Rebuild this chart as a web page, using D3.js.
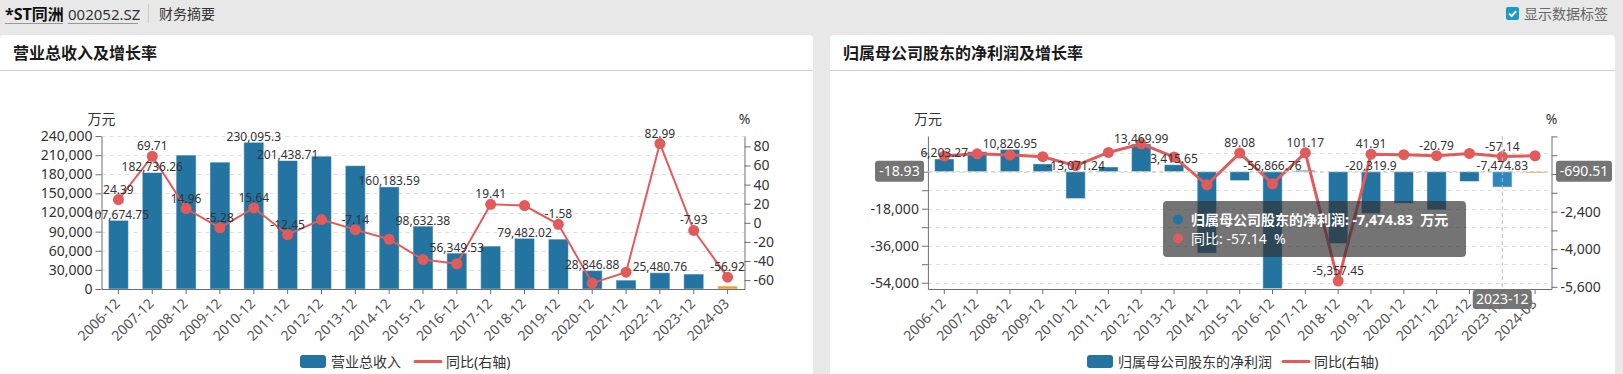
<!DOCTYPE html>
<html>
<head>
<meta charset="utf-8">
<script src="https://cdn.jsdelivr.net/npm/d3@7"></script>
<style>
    body { margin: 0; background: #e8e8e8; }
    svg { display: block; font-family: "Noto Sans", "Noto Sans CJK SC", sans-serif; }
</style>
</head>
<body>
<div id="svg-container"></div>
<script>
/* two finance panels: revenue + net profit, bars on left axis, yoy line on right axis */

let categories = ["2006-12", "2007-12", "2008-12", "2009-12", "2010-12", "2011-12", "2012-12", "2013-12",
    "2014-12", "2015-12", "2016-12", "2017-12", "2018-12", "2019-12", "2020-12", "2021-12", "2022-12",
    "2023-12", "2024-03"];

// 营业总收入 (万元) and 同比 (%)
let revenue = [107674.75, 182736.26, 210073.2, 198981.3, 230095.3, 201438.71, 208333.4, 193458.1, 160183.59,
    98632.38, 56349.53, 67287.0, 79482.02, 78226.2, 28846.88, 13924.9, 25480.76, 23460.2, 4612.4];
let revenueYoy = [24.39, 69.71, 14.96, -5.28, 15.64, -12.45, 3.42, -7.14, -17.2, -38.43, -42.87, 19.41, 18.12,
    -1.58, -63.12, -51.73, 82.99, -7.93, -56.92];
// labels that survive the overlap hiding in the picture
let revenueBarLabelShown = ["2006-12", "2007-12", "2010-12", "2011-12", "2014-12", "2015-12", "2016-12",
    "2018-12", "2020-12", "2022-12"];
let revenueYoyLabelShown = ["2006-12", "2007-12", "2008-12", "2009-12", "2010-12", "2011-12", "2013-12",
    "2017-12", "2019-12", "2022-12", "2023-12", "2024-03"];

// 归属母公司股东的净利润 (万元) and 同比 (%)
let profit = [6203.27, 9730.4, 10826.95, 3800.0, -13071.24, 2300.0, 13469.99, 3415.65, -39600.2, -4324.6,
    -56866.76, 665.3, -34962.1, -20319.9, -15370.4, -18566.0, -4756.8, -7474.83, -620.5];
let profitYoy = [-35.1, 56.86, 11.27, -64.9, -444.0, 117.6, 485.7, -74.64, -1259.4, 89.08, -1215.0, 101.17,
    -5357.45, 41.91, 24.36, -20.79, 74.38, -57.14, -23.6];
let profitBarLabelShown = ["2006-12", "2008-12", "2010-12", "2012-12", "2013-12", "2016-12", "2019-12", "2023-12"];
let profitYoyLabelShown = ["2015-12", "2017-12", "2018-12", "2019-12", "2021-12", "2023-12"];

let revenueTicks = [0, 30000, 60000, 90000, 120000, 150000, 180000, 210000, 240000];
let revenueYoyTicks = [-60, -40, -20, 0, 20, 40, 60, 80];
let profitTicks = [-54000, -45000, -36000, -27000, -18000, -9000, 0, 9000];
let profitTickLabels = [-54000, -36000, -18000, 0];
let profitYoyTicks = [-5600, -4800, -4000, -3200, -2400, -1600, -800, 0, 800];
let profitYoyTickLabels = [-5600, -4000, -2400, -800];

let hoverCategory = "2023-12";

let barColor = "#2474a2";
let barHoverColor = "#2f88bd";
let lastBarColor = "#f39a2b";
let lineColor = "#e25b5b";
let plotTop = 136, plotBottom = 289;

let loc = d3.formatLocale({decimal: ".", thousands: ",", grouping: [3], currency: ["", ""], minus: "-"});
let numLabel = loc.format(",.2~f");
let axisNum = loc.format(",");

let svg = d3.select("#svg-container")
    .append("svg")
    .attr("width", 1623)
    .attr("height", 374);

svg.append("rect").attr("width", 1623).attr("height", 374).attr("fill", "#e8e8e8");

// ---- top bar ----
svg.append("text").attr("x", 5).attr("y", 20).attr("font-size", 16).attr("font-weight", "bold")
    .attr("fill", "#111").text("*ST同洲");
svg.append("line").attr("x1", 5).attr("x2", 63).attr("y1", 23.5).attr("y2", 23.5).attr("stroke", "#999");
svg.append("text").attr("x", 68).attr("y", 20).attr("font-size", 15).attr("fill", "#333").text("002052.SZ");
svg.append("line").attr("x1", 68).attr("x2", 138).attr("y1", 23.5).attr("y2", 23.5).attr("stroke", "#999");
svg.append("line").attr("x1", 148.5).attr("x2", 148.5).attr("y1", 4).attr("y2", 23).attr("stroke", "#ccc");
svg.append("text").attr("x", 159).attr("y", 19).attr("font-size", 14).attr("fill", "#333").text("财务摘要");

svg.append("rect").attr("x", 1506).attr("y", 7).attr("width", 13).attr("height", 13).attr("rx", 2)
    .attr("fill", "#1a9ac6");
svg.append("path").attr("d", "M1509,13.5 l2.6,2.6 l4.6,-5").attr("fill", "none")
    .attr("stroke", "white").attr("stroke-width", 2);
svg.append("text").attr("x", 1524).attr("y", 18.5).attr("font-size", 14).attr("fill", "#666").text("显示数据标签");

// ---- panels ----
let panels = [{x: 0, w: 813, title: "营业总收入及增长率"}, {x: 830, w: 785, title: "归属母公司股东的净利润及增长率"}];
panels.forEach(function (p) {
    svg.append("rect").attr("x", p.x).attr("y", 35).attr("width", p.w).attr("height", 350).attr("rx", 4)
        .attr("fill", "white");
    svg.append("line").attr("x1", p.x).attr("x2", p.x + p.w).attr("y1", 70.5).attr("y2", 70.5)
        .attr("stroke", "#cfcfcf");
    svg.append("text").attr("x", p.x + 13).attr("y", 58.5).attr("font-size", 16).attr("font-weight", "bold")
        .attr("fill", "#1a1a1a").text(p.title);
});

let drawChart = function (o) {
    let g = svg.append("g");
    let x = d3.scaleBand().domain(categories).range([o.left, o.right]);
    let yL = d3.scaleLinear().domain(o.leftDomain).range([plotBottom, plotTop]);
    let yR = d3.scaleLinear().domain(o.rightDomain).range([plotBottom, plotTop]);
    let cx = function (c) { return x(c) + x.bandwidth() / 2; };
    let barW = x.bandwidth() * 0.59;

    let bars = categories.map(function (c, i) { return {cat: c, v: o.bars[i], yoy: o.line[i]}; });

    // dashed split lines
    g.append("g").selectAll("line")
        .data(o.leftTicks.filter(function (t) { return t !== o.leftDomain[0]; }))
        .enter()
        .append("line")
        .attr("x1", o.left).attr("x2", o.right)
        .attr("y1", function (d) { return Math.round(yL(d)) + 0.5; })
        .attr("y2", function (d) { return Math.round(yL(d)) + 0.5; })
        .attr("stroke", "#dedede")
        .attr("stroke-dasharray", "4,4");

    g.append("g").selectAll("rect")
        .data(bars)
        .enter()
        .append("rect")
        .attr("x", function (d) { return cx(d.cat) - barW / 2; })
        .attr("width", barW)
        .attr("y", function (d) { return d.v >= 0 ? yL(d.v) : yL(0); })
        .attr("height", function (d) { return Math.max(1, Math.abs(yL(d.v) - yL(0))); })
        .attr("fill", function (d) {
            if (d.cat === categories[categories.length - 1]) return lastBarColor;
            return d.cat === o.hover ? barHoverColor : barColor;
        })
        .attr("stroke", "rgba(255,255,255,0.45)")
        .attr("stroke-width", 1);

    let line = d3.line()
        .x(function (d) { return cx(d.cat); })
        .y(function (d) { return yR(d.yoy); });
    g.append("path")
        .datum(bars)
        .attr("d", line)
        .attr("fill", "none")
        .attr("stroke", lineColor)
        .attr("stroke-width", o.lineWidth);
    g.append("g").selectAll("circle")
        .data(bars)
        .enter()
        .append("circle")
        .attr("cx", function (d) { return cx(d.cat); })
        .attr("cy", function (d) { return yR(d.yoy); })
        .attr("r", 5.5)
        .attr("fill", lineColor);

    // axes
    let styleAxis = function (a) {
        a.attr("font-family", null).attr("font-size", 14);
        a.selectAll("path, line").attr("stroke", "#6e6e6e");
        a.selectAll("text").attr("fill", "#333");
    };
    g.append("g")
        .attr("transform", "translate(" + o.left + ",0)")
        .call(d3.axisLeft(yL).tickValues(o.leftTicks).tickSize(6).tickSizeOuter(0).tickPadding(3)
            .tickFormat(function (d) { return o.leftLabels.includes(d) ? axisNum(d) : ""; }))
        .call(styleAxis);
    g.append("g")
        .attr("transform", "translate(" + o.right + ",0)")
        .call(d3.axisRight(yR).tickValues(o.rightTicks).tickSize(6).tickSizeOuter(0).tickPadding(3)
            .tickFormat(function (d) { return o.rightLabels.includes(d) ? axisNum(d) : ""; }))
        .call(styleAxis);
    let xa = g.append("g")
        .attr("transform", "translate(0," + plotBottom + ")")
        .call(d3.axisBottom(x).tickSize(5).tickSizeOuter(0))
        .call(styleAxis);
    xa.selectAll("text")
        .attr("fill", "#555")
        .attr("y", 0)
        .attr("dy", "0.35em")
        .attr("text-anchor", "end")
        .attr("transform", "translate(-1,12) rotate(-45)");

    g.append("text").attr("x", o.left).attr("y", 124).attr("text-anchor", "middle").attr("font-size", 14)
        .attr("fill", "#333").text("万元");
    g.append("text").attr("x", o.right).attr("y", 124).attr("text-anchor", "middle").attr("font-size", 14)
        .attr("fill", "#333").text("%");

    // data labels
    g.append("g").selectAll("text")
        .data(bars.filter(function (d) { return o.barLabels.includes(d.cat); }))
        .enter()
        .append("text")
        .attr("x", function (d) { return cx(d.cat); })
        .attr("y", function (d) { return (d.v >= 0 ? yL(d.v) : yL(0)) - 1.5; })
        .attr("text-anchor", "middle")
        .attr("font-size", 12)
        .attr("fill", "#333")
        .text(function (d) { return numLabel(d.v); });
    g.append("g").selectAll("text")
        .data(bars.filter(function (d) { return o.lineLabels.includes(d.cat); }))
        .enter()
        .append("text")
        .attr("x", function (d) { return cx(d.cat); })
        .attr("y", function (d) { return yR(d.yoy) - 6; })
        .attr("text-anchor", "middle")
        .attr("font-size", 12)
        .attr("fill", "#333")
        .text(function (d) { return numLabel(d.yoy); });

    // legend
    let lg = g.append("g").attr("font-size", 14).attr("fill", "#333");
    lg.append("rect").attr("x", o.legendX).attr("y", 355).attr("width", 26).attr("height", 13).attr("rx", 3)
        .attr("fill", barColor);
    lg.append("text").attr("x", o.legendX + 31).attr("y", 366.5).text(o.barName);
    let lx = o.legendX + 31 + o.barNameWidth + 14;
    lg.append("line").attr("x1", lx).attr("x2", lx + 26).attr("y1", 361.5).attr("y2", 361.5)
        .attr("stroke", lineColor).attr("stroke-width", 3).attr("stroke-linecap", "round");
    lg.append("text").attr("x", lx + 31).attr("y", 366.5).text("同比(右轴)");

    return {x: x, yL: yL, yR: yR, cx: cx, g: g};
};

drawChart({
    left: 101.5, right: 744.5,
    bars: revenue, line: revenueYoy,
    leftDomain: [0, 240000], rightDomain: [-69.3, 90.9],
    leftTicks: revenueTicks, leftLabels: revenueTicks,
    rightTicks: revenueYoyTicks, rightLabels: revenueYoyTicks,
    barLabels: revenueBarLabelShown, lineLabels: revenueYoyLabelShown,
    lineWidth: 2, hover: null,
    legendX: 300, barName: "营业总收入", barNameWidth: 70
});

let right = drawChart({
    left: 927.9, right: 1551.5,
    bars: profit, line: profitYoy,
    leftDomain: [-57052, 17364], rightDomain: [-5694, 817],
    leftTicks: profitTicks, leftLabels: profitTickLabels,
    rightTicks: profitYoyTicks, rightLabels: profitYoyTickLabels,
    barLabels: profitBarLabelShown, lineLabels: profitYoyLabelShown,
    lineWidth: 3, hover: hoverCategory,
    legendX: 1087, barName: "归属母公司股东的净利润", barNameWidth: 151
});

// ---- axis pointer + tooltip on the profit chart (hover at 2023-12) ----
let pointerY = 171.7;
let hx = right.cx(hoverCategory);
let hi = categories.indexOf(hoverCategory);
let ap = svg.append("g");
ap.append("line").attr("x1", hx).attr("x2", hx).attr("y1", plotTop).attr("y2", plotBottom)
    .attr("stroke", "#bbb").attr("stroke-dasharray", "4,3");
ap.append("line").attr("x1", 927.9).attr("x2", 1551.5).attr("y1", pointerY).attr("y2", pointerY)
    .attr("stroke", "#ccc").attr("stroke-dasharray", "4,3");

let pointerBox = function (x0, y0, w, h, txt) {
    ap.append("rect").attr("x", x0).attr("y", y0).attr("width", w).attr("height", h).attr("rx", 3)
        .attr("fill", "#6e6e6e").attr("opacity", 0.95);
    ap.append("text").attr("x", x0 + w / 2).attr("y", y0 + h / 2).attr("dy", "0.35em")
        .attr("text-anchor", "middle").attr("font-size", 14).attr("fill", "white").text(txt);
};
pointerBox(875, pointerY - 11, 49, 21, numLabel(right.yL.invert(pointerY) > -19 ? -18.93 : -18.93));
pointerBox(1556, pointerY - 11, 56, 21, numLabel(-690.51));
pointerBox(hx - 29.5, 290, 59, 19, hoverCategory);

let tip = svg.append("g");
tip.append("rect").attr("x", 1163).attr("y", 201).attr("width", 303).attr("height", 56).attr("rx", 4)
    .attr("fill", "rgba(50,50,50,0.68)");
tip.append("circle").attr("cx", 1178).attr("cy", 219.5).attr("r", 5).attr("fill", barColor);
tip.append("circle").attr("cx", 1178).attr("cy", 238.5).attr("r", 5).attr("fill", lineColor);
tip.append("text").attr("x", 1191).attr("y", 224.5).attr("font-size", 14).attr("font-weight", "bold")
    .attr("fill", "white").text("归属母公司股东的净利润: " + numLabel(profit[hi]) + "  万元")
    .attr("xml:space", "preserve");
tip.append("text").attr("x", 1191).attr("y", 243.5).attr("font-size", 14)
    .attr("fill", "white").text("同比: " + numLabel(profitYoy[hi]) + "  %")
    .attr("xml:space", "preserve");
</script>
</body>
</html>
